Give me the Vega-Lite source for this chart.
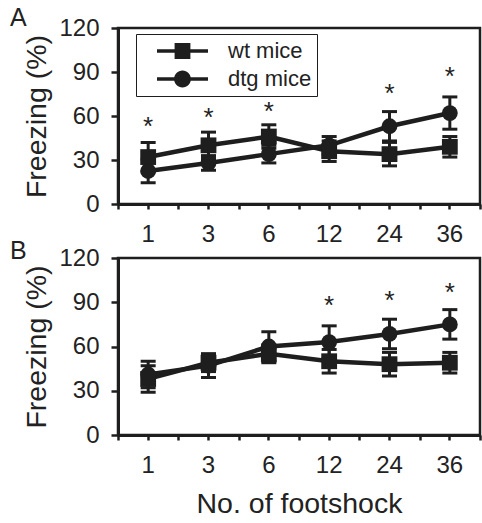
{
  "$schema": "https://vega.github.io/schema/vega-lite/v6.json",
  "background": "white",
  "padding": {"left": 8, "top": 4, "right": 0, "bottom": 0},
  "config": {
    "font": "Liberation Sans",
    "view": {"stroke": "#1e1e1e", "strokeWidth": 2.5},
    "axis": {
      "labelFont": "Liberation Sans", "labelFontSize": 24, "labelColor": "#222",
      "titleFont": "Liberation Sans", "titleFontSize": 28.5, "titleFontWeight": "normal", "titleColor": "#222",
      "domainColor": "#1e1e1e", "domainWidth": 3, "tickColor": "#1e1e1e", "tickWidth": 2.5, "tickSize": 6, "grid": false
    },
    "title": {"font": "Liberation Sans", "fontSize": 25, "fontWeight": "normal", "color": "#222", "anchor": "start", "frame": "group"}
  },
  "datasets": {
    "miceA": [
      {"group": "wt mice", "shocks": 1, "mean": 32, "se": 10},
      {"group": "wt mice", "shocks": 3, "mean": 40, "se": 9},
      {"group": "wt mice", "shocks": 6, "mean": 46, "se": 8},
      {"group": "wt mice", "shocks": 12, "mean": 36, "se": 7},
      {"group": "wt mice", "shocks": 24, "mean": 34, "se": 8},
      {"group": "wt mice", "shocks": 36, "mean": 39, "se": 7},
      {"group": "dtg mice", "shocks": 1, "mean": 22.5, "se": 8},
      {"group": "dtg mice", "shocks": 3, "mean": 28, "se": 5},
      {"group": "dtg mice", "shocks": 6, "mean": 34, "se": 6},
      {"group": "dtg mice", "shocks": 12, "mean": 40, "se": 6},
      {"group": "dtg mice", "shocks": 24, "mean": 53, "se": 10},
      {"group": "dtg mice", "shocks": 36, "mean": 62, "se": 11}
    ],
    "miceB": [
      {"group": "wt mice", "shocks": 1, "mean": 38, "se": 9},
      {"group": "wt mice", "shocks": 3, "mean": 49, "se": 6},
      {"group": "wt mice", "shocks": 6, "mean": 55, "se": 6},
      {"group": "wt mice", "shocks": 12, "mean": 50, "se": 8},
      {"group": "wt mice", "shocks": 24, "mean": 48, "se": 8},
      {"group": "wt mice", "shocks": 36, "mean": 49, "se": 7},
      {"group": "dtg mice", "shocks": 1, "mean": 41, "se": 9},
      {"group": "dtg mice", "shocks": 3, "mean": 47, "se": 8},
      {"group": "dtg mice", "shocks": 6, "mean": 60, "se": 10},
      {"group": "dtg mice", "shocks": 12, "mean": 63, "se": 11},
      {"group": "dtg mice", "shocks": 24, "mean": 68.5, "se": 10},
      {"group": "dtg mice", "shocks": 36, "mean": 75, "se": 10}
    ],
    "starsA": [
      {"shocks": 1, "y": 54.5, "mark": "*"},
      {"shocks": 3, "y": 60.5, "mark": "*"},
      {"shocks": 6, "y": 65, "mark": "*"},
      {"shocks": 24, "y": 77, "mark": "*"},
      {"shocks": 36, "y": 88.5, "mark": "*"}
    ],
    "starsB": [
      {"shocks": 12, "y": 89.5, "mark": "*"},
      {"shocks": 24, "y": 93, "mark": "*"},
      {"shocks": 36, "y": 98.5, "mark": "*"}
    ]
  },
  "spacing": -11,
  "vconcat": [
    {
      "width": 362, "height": 176,
      "title": {"text": "A", "dx": -108, "offset": -15},
      "resolve": {"axis": {"x": "independent"}},
      "layer": [
        {
          "data": {"name": "miceA"},
          "mark": {"type": "errorbar", "color": "#1e1e1e", "opacity": 1, "thickness": 3, "ticks": {"size": 15, "thickness": 3, "color": "#1e1e1e", "opacity": 1}},
          "encoding": {
            "x": {"field": "shocks", "type": "ordinal", "scale": {"type": "band", "paddingInner": 0, "paddingOuter": 0},
                  "axis": {"orient": "bottom", "tickBand": "extent", "labels": false, "domain": false, "title": null, "tickSize": 5}},
            "y": {"field": "mean", "type": "quantitative", "title": "Freezing (%)", "scale": {"domain": [0, 120]}},
            "yError": {"field": "se"}
          }
        },
        {
          "data": {"name": "miceA"},
          "mark": {"type": "line", "color": "#1e1e1e", "strokeWidth": 4.5},
          "encoding": {
            "x": {"field": "shocks", "type": "ordinal", "scale": {"type": "band", "paddingInner": 0, "paddingOuter": 0},
                  "axis": {"orient": "bottom", "labelAngle": 0, "title": null, "tickSize": 5, "labelPadding": 13}},
            "y": {"field": "mean", "type": "quantitative", "title": "Freezing (%)",
                  "axis": {"values": [0, 30, 60, 90, 120], "tickSize": 7, "labelPadding": 12, "titlePadding": 7}},
            "detail": {"field": "group"}
          }
        },
        {
          "data": {"name": "miceA"},
          "transform": [{"filter": "datum.group === 'wt mice'"}],
          "mark": {"type": "point", "shape": "square", "filled": true, "color": "#1e1e1e", "opacity": 1, "size": 250},
          "encoding": {
            "x": {"field": "shocks", "type": "ordinal", "axis": null},
            "y": {"field": "mean", "type": "quantitative", "title": "Freezing (%)"}
          }
        },
        {
          "data": {"name": "miceA"},
          "transform": [{"filter": "datum.group === 'dtg mice'"}],
          "mark": {"type": "point", "shape": "circle", "filled": true, "color": "#1e1e1e", "opacity": 1, "size": 250},
          "encoding": {
            "x": {"field": "shocks", "type": "ordinal", "axis": null},
            "y": {"field": "mean", "type": "quantitative", "title": "Freezing (%)"}
          }
        },
        {
          "data": {"name": "miceA"},
          "mark": {"type": "point", "filled": true, "color": "#1e1e1e", "stroke": "#1e1e1e", "strokeWidth": 3.5, "size": 0},
          "encoding": {
            "x": {"field": "shocks", "type": "ordinal", "axis": null},
            "y": {"field": "mean", "type": "quantitative", "title": "Freezing (%)"},
            "shape": {"field": "group", "type": "nominal",
                      "scale": {"domain": ["wt mice", "dtg mice"],
                                "range": ["M-1,-0.07H1V0.07H-1ZM-0.31,-0.31H0.31V0.31H-0.31Z", "M-1,-0.07H1V0.07H-1ZM0.33,0A0.33,0.33 0 1 1 -0.33,0A0.33,0.33 0 1 1 0.33,0Z"]},
                      "legend": {"title": null, "orient": "none", "legendX": 18, "legendY": 6,
                                 "strokeColor": "#1e1e1e", "padding": 5, "fillColor": "white",
                                 "labelFont": "Liberation Sans", "labelFontSize": 22, "labelColor": "#222",
                                 "symbolSize": 2601, "clipHeight": 24, "rowPadding": 4,
                                 "symbolOffset": 14, "labelOffset": 18,
                                 "symbolStrokeWidth": 3.5, "symbolStrokeColor": "#1e1e1e", "symbolFillColor": "#1e1e1e", "symbolOpacity": 1,
                                 "labelExpr": "datum.label + '   '"}}
          }
        },
        {
          "data": {"name": "starsA"},
          "mark": {"type": "text", "font": "Liberation Sans", "fontSize": 26, "color": "#222", "baseline": "middle", "dy": 3},
          "encoding": {
            "x": {"field": "shocks", "type": "ordinal", "axis": null},
            "y": {"field": "y", "type": "quantitative", "title": "Freezing (%)"},
            "text": {"field": "mark"}
          }
        }
      ]
    },
    {
      "width": 362, "height": 177,
      "title": {"text": "B", "dx": -108, "offset": -18},
      "resolve": {"axis": {"x": "independent"}},
      "layer": [
        {
          "data": {"name": "miceB"},
          "mark": {"type": "errorbar", "color": "#1e1e1e", "opacity": 1, "thickness": 3, "ticks": {"size": 15, "thickness": 3, "color": "#1e1e1e", "opacity": 1}},
          "encoding": {
            "x": {"field": "shocks", "type": "ordinal", "scale": {"type": "band", "paddingInner": 0, "paddingOuter": 0},
                  "axis": {"orient": "bottom", "tickBand": "extent", "labels": false, "domain": false, "title": null, "tickSize": 5}},
            "y": {"field": "mean", "type": "quantitative", "title": "Freezing (%)", "scale": {"domain": [0, 120]}},
            "yError": {"field": "se"}
          }
        },
        {
          "data": {"name": "miceB"},
          "mark": {"type": "line", "color": "#1e1e1e", "strokeWidth": 4.5},
          "encoding": {
            "x": {"field": "shocks", "type": "ordinal", "scale": {"type": "band", "paddingInner": 0, "paddingOuter": 0},
                  "axis": {"orient": "bottom", "labelAngle": 0, "title": "No. of footshock", "tickSize": 5, "labelPadding": 13, "titlePadding": 12}},
            "y": {"field": "mean", "type": "quantitative", "title": "Freezing (%)",
                  "axis": {"values": [0, 30, 60, 90, 120], "tickSize": 7, "labelPadding": 12, "titlePadding": 7}},
            "detail": {"field": "group"}
          }
        },
        {
          "data": {"name": "miceB"},
          "transform": [{"filter": "datum.group === 'wt mice'"}],
          "mark": {"type": "point", "shape": "square", "filled": true, "color": "#1e1e1e", "opacity": 1, "size": 250},
          "encoding": {
            "x": {"field": "shocks", "type": "ordinal", "axis": null},
            "y": {"field": "mean", "type": "quantitative", "title": "Freezing (%)"}
          }
        },
        {
          "data": {"name": "miceB"},
          "transform": [{"filter": "datum.group === 'dtg mice'"}],
          "mark": {"type": "point", "shape": "circle", "filled": true, "color": "#1e1e1e", "opacity": 1, "size": 250},
          "encoding": {
            "x": {"field": "shocks", "type": "ordinal", "axis": null},
            "y": {"field": "mean", "type": "quantitative", "title": "Freezing (%)"}
          }
        },
        {
          "data": {"name": "starsB"},
          "mark": {"type": "text", "font": "Liberation Sans", "fontSize": 26, "color": "#222", "baseline": "middle", "dy": 3},
          "encoding": {
            "x": {"field": "shocks", "type": "ordinal", "axis": null},
            "y": {"field": "y", "type": "quantitative", "title": "Freezing (%)"},
            "text": {"field": "mark"}
          }
        }
      ]
    }
  ]
}
